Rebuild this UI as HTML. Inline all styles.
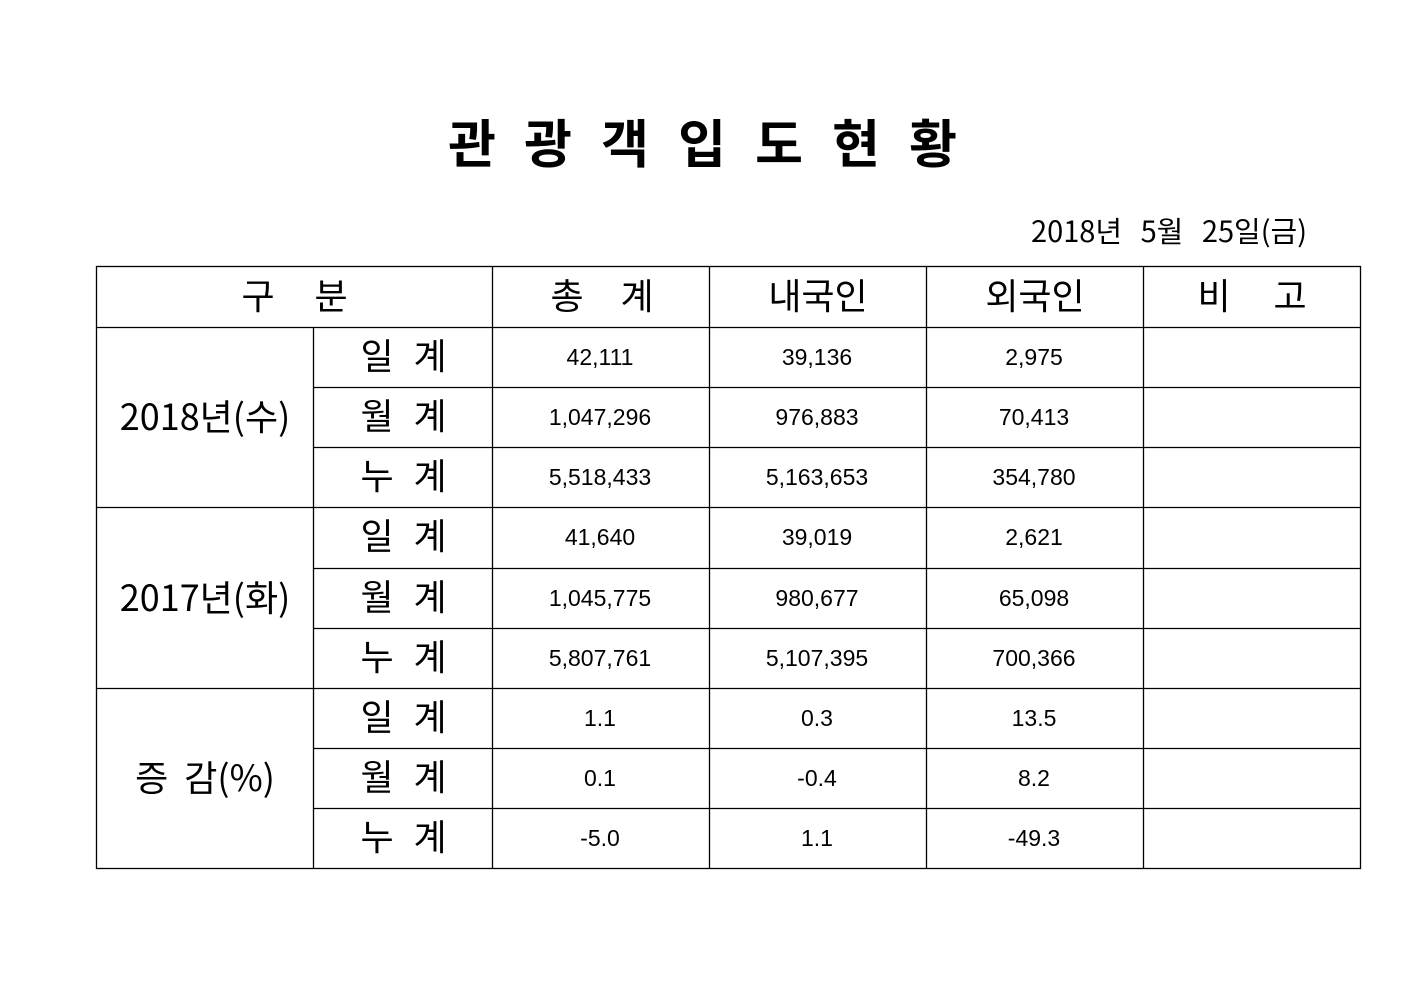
<!DOCTYPE html>
<html><head><meta charset="utf-8"><style>
html,body{margin:0;padding:0;background:#fff;}
svg{display:block;}
text{font-family:"Liberation Sans","Noto Sans CJK KR",sans-serif;fill:#000;}
.k{font-family:"Noto Sans CJK KR","Liberation Sans",sans-serif;}
</style></head><body>
<svg width="1403" height="992" viewBox="0 0 1403 992">
<g class="k" font-size="52" font-weight="bold" text-anchor="middle">
<text x="472" y="163" class="k">관</text>
<text x="548" y="163" class="k">광</text>
<text x="625" y="163" class="k">객</text>
<text x="702" y="163" class="k">입</text>
<text x="779" y="163" class="k">도</text>
<text x="856" y="163" class="k">현</text>
<text x="933" y="163" class="k">황</text>
</g>
<text x="1307" y="242" text-anchor="end" class="k" font-size="29" word-spacing="12">2018년 5월 25일(금)</text>
<g stroke="#000" stroke-width="1.3" fill="none">
<rect x="96.5" y="266.5" width="1264" height="602"/>
<line x1="96" y1="327.5" x2="1360" y2="327.5"/>
<line x1="96" y1="507.5" x2="1360" y2="507.5"/>
<line x1="96" y1="688.5" x2="1360" y2="688.5"/>
<line x1="313" y1="387.5" x2="1360" y2="387.5"/>
<line x1="313" y1="447.5" x2="1360" y2="447.5"/>
<line x1="313" y1="568.5" x2="1360" y2="568.5"/>
<line x1="313" y1="628.5" x2="1360" y2="628.5"/>
<line x1="313" y1="748.5" x2="1360" y2="748.5"/>
<line x1="313" y1="808.5" x2="1360" y2="808.5"/>
<line x1="313.5" y1="327" x2="313.5" y2="868"/>
<line x1="492.5" y1="266" x2="492.5" y2="868"/>
<line x1="709.5" y1="266" x2="709.5" y2="868"/>
<line x1="926.5" y1="266" x2="926.5" y2="868"/>
<line x1="1143.5" y1="266" x2="1143.5" y2="868"/>
</g>
<g font-size="36" text-anchor="middle">
<text x="258" y="309" class="k">구</text><text x="331" y="309" class="k">분</text>
<text x="567" y="309" class="k">총</text><text x="637" y="309" class="k">계</text>
<text x="818" y="309" class="k">내국인</text>
<text x="1035" y="309" class="k">외국인</text>
<text x="1214" y="309" class="k">비</text><text x="1290" y="309" class="k">고</text>
</g>
<g font-size="36" text-anchor="middle">
<text x="205" y="430" class="k">2018년(수)</text>
<text x="205" y="611" class="k">2017년(화)</text>
<text x="205" y="791" class="k" word-spacing="8">증 감(%)</text>
</g>
<g font-size="36" text-anchor="middle">
<text x="377" y="369" class="k">일</text><text x="430" y="369" class="k">계</text>
<text x="377" y="429" class="k">월</text><text x="430" y="429" class="k">계</text>
<text x="377" y="489" class="k">누</text><text x="430" y="489" class="k">계</text>
<text x="377" y="549" class="k">일</text><text x="430" y="549" class="k">계</text>
<text x="377" y="610" class="k">월</text><text x="430" y="610" class="k">계</text>
<text x="377" y="670" class="k">누</text><text x="430" y="670" class="k">계</text>
<text x="377" y="730" class="k">일</text><text x="430" y="730" class="k">계</text>
<text x="377" y="790" class="k">월</text><text x="430" y="790" class="k">계</text>
<text x="377" y="850" class="k">누</text><text x="430" y="850" class="k">계</text>
</g>
<g font-size="23" text-anchor="middle">
<text x="600" y="365">42,111</text><text x="817" y="365">39,136</text><text x="1034" y="365">2,975</text>
<text x="600" y="425">1,047,296</text><text x="817" y="425">976,883</text><text x="1034" y="425">70,413</text>
<text x="600" y="485">5,518,433</text><text x="817" y="485">5,163,653</text><text x="1034" y="485">354,780</text>
<text x="600" y="545">41,640</text><text x="817" y="545">39,019</text><text x="1034" y="545">2,621</text>
<text x="600" y="606">1,045,775</text><text x="817" y="606">980,677</text><text x="1034" y="606">65,098</text>
<text x="600" y="666">5,807,761</text><text x="817" y="666">5,107,395</text><text x="1034" y="666">700,366</text>
<text x="600" y="726">1.1</text><text x="817" y="726">0.3</text><text x="1034" y="726">13.5</text>
<text x="600" y="786">0.1</text><text x="817" y="786">-0.4</text><text x="1034" y="786">8.2</text>
<text x="600" y="846">-5.0</text><text x="817" y="846">1.1</text><text x="1034" y="846">-49.3</text>
</g>
</svg>
</body></html>
